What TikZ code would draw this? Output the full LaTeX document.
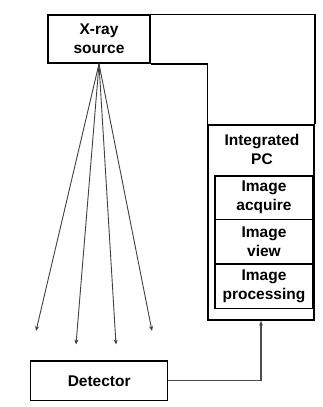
\documentclass[tikz,border=0pt]{standalone}
\usepackage{fontspec}
\setmainfont{Liberation Sans}
\usetikzlibrary{arrows.meta}
\begin{document}
\begin{tikzpicture}[x=1pt,y=-1pt,
  box/.style={draw=black, line width=1.5pt, inner sep=0pt, align=center,
    font=\fontsize{15.5}{19}\selectfont\bfseries},
  inbox/.style={box, line width=1.2pt},
  lbl/.style={inner sep=0pt, align=center, font=\fontsize{15.5}{19}\selectfont\bfseries},
  frame/.style={draw=black, line width=1.5pt},
  ray/.style={draw=black!75, line width=0.9pt, -{Stealth[length=5pt,width=4pt]}},
  link/.style={draw=black!70, line width=1.1pt, -{Stealth[length=5pt,width=4pt]}}
]
\useasboundingbox (0,0) rectangle (322,407);
\node[box, minimum width=102pt, minimum height=48pt] (src) at (99,39) {X-ray\\source};
\node[box, minimum width=106pt, minimum height=195pt] (pc) at (261,222.5) {};
\node[lbl] (pclbl) at (262,149.5) {Integrated\\PC};
\node[inbox, minimum width=98pt, minimum height=43.3pt] (acq) at (264,197.7) {Image\\acquire};
\node[inbox, minimum width=98pt, minimum height=44.7pt] (view) at (264,241.7) {Image\\view};
\node[inbox, minimum width=98pt, minimum height=44.3pt] (proc) at (264,286.2) {Image\\processing};
\node[box, minimum width=137pt, minimum height=39.7pt] (det) at (99.2,380.8) {Detector};
\draw[frame] (src.north east) -- (src.north east -| pc.east) -- (pc.north east);
\draw[frame] (src.south east) -- (src.south east -| pc.west) -- (pc.north west);
\coordinate (t1) at (36,331);
\coordinate (t2) at (76,344.5);
\coordinate (t3) at (116,344.5);
\coordinate (t4) at (152,331);
\foreach \t in {t1,t2,t3,t4} \draw[ray] (src.south) -- (\t);
\draw[link] (det.east) -- (det.east -| pc.south) -- (pc.south);
\end{tikzpicture}
\end{document}
